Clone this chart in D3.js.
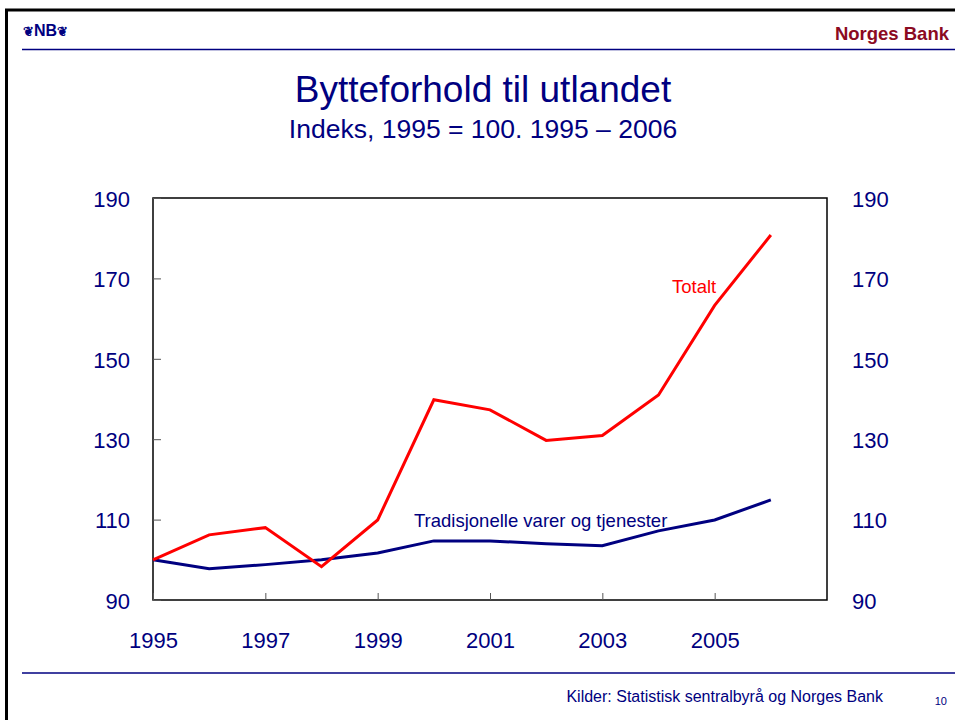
<!DOCTYPE html>
<html>
<head>
<meta charset="utf-8">
<script src="https://cdn.jsdelivr.net/npm/d3@7"></script>
<style>
  body { margin: 0; background: #fff; }
  svg { font-family: Arial, "Liberation Sans", sans-serif; }
</style>
</head>
<body>
<div id="chart"></div>
<script>
// data
const years = [1995, 1996, 1997, 1998, 1999, 2000, 2001, 2002, 2003, 2004, 2005, 2006]
const totalt = [100, 106.2, 108, 98.3, 109.9, 139.8, 137.3, 129.7, 130.9, 141, 163.3, 180.8]
const tradisjonelle = [100, 97.8, 98.8, 100, 101.7, 104.7, 104.7, 104, 103.5, 107.2, 109.9, 114.9]
const yTicks = [90, 110, 130, 150, 170, 190]
const xTicks = [1995, 1997, 1999, 2001, 2003, 2005]

const W = 955, H = 720
const navy = '#000080'

var svg = d3.select('#chart').append('svg')
  .attr('width', W).attr('height', H)

// slide frame
svg.append('rect')
  .attr('x', 6.5).attr('y', 10).attr('width', W + 10).attr('height', H)
  .attr('fill', 'none').attr('stroke', '#000').attr('stroke-width', 3)

svg.append('line').attr('x1', 22).attr('x2', W).attr('y1', 49.5).attr('y2', 49.5)
  .attr('stroke', navy).attr('stroke-width', 1.5)
svg.append('line').attr('x1', 22).attr('x2', W).attr('y1', 673).attr('y2', 673)
  .attr('stroke', navy).attr('stroke-width', 1.5)

// logo: ornament + NB + ornament
var logo = svg.append('text').attr('x', 23).attr('y', 36)
  .attr('fill', navy).style('font-weight', 'bold')
logo.append('tspan').style('font-size', '13px').text('\u2766')
logo.append('tspan').style('font-size', '16px').attr('font-family', '"Liberation Sans Narrow", Arial').text('NB')
logo.append('tspan').style('font-size', '13px').text('\u2766')

svg.append('text').attr('x', 949).attr('y', 40).attr('text-anchor', 'end')
  .attr('fill', '#8b0a22').style('font-size', '18.5px').style('font-weight', 'bold')
  .text('Norges Bank')

svg.append('text').attr('x', 483).attr('y', 102).attr('text-anchor', 'middle')
  .attr('fill', navy).style('font-size', '37px')
  .text('Bytteforhold til utlandet')
svg.append('text').attr('x', 483).attr('y', 138).attr('text-anchor', 'middle')
  .attr('fill', navy).style('font-size', '26.5px')
  .text('Indeks, 1995 = 100. 1995 \u2013 2006')

svg.append('text').attr('x', 883).attr('y', 702).attr('text-anchor', 'end')
  .attr('fill', navy).style('font-size', '16px')
  .text('Kilder: Statistisk sentralbyr\u00e5 og Norges Bank')
svg.append('text').attr('x', 947).attr('y', 705).attr('text-anchor', 'end')
  .attr('fill', navy).style('font-size', '11px')
  .text('10')

// plot area
const pL = 153, pR = 827, pT = 198, pB = 600

var x = d3.scaleLinear().domain([1995, 2007]).range([pL, pR])
var y = d3.scaleLinear().domain([90, 190]).range([pB, pT])

svg.append('rect')
  .attr('x', pL).attr('y', pT).attr('width', pR - pL).attr('height', pB - pT)
  .attr('fill', 'none').attr('stroke', '#000').attr('stroke-width', 1.5)

// inner ticks
svg.append('g')
  .attr('transform', `translate(${pL},0)`)
  .call(d3.axisRight(y).tickValues(yTicks).tickSize(8).tickFormat(''))
  .call(g => g.select('.domain').remove())
  .selectAll('line').attr('stroke', '#555')
svg.append('g')
  .attr('transform', `translate(0,${pB})`)
  .call(d3.axisTop(x).tickValues(xTicks).tickSize(7).tickFormat(''))
  .call(g => g.select('.domain').remove())
  .selectAll('line').attr('stroke', '#555')

// labels
svg.append('g')
  .attr('transform', `translate(${pL - 20},0)`)
  .call(d3.axisLeft(y).tickValues(yTicks).tickSize(0))
  .call(g => g.select('.domain').remove())
  .selectAll('text').attr('fill', navy).style('font-size', '22px').attr('dy', '0.38em')
svg.append('g')
  .attr('transform', `translate(${pR + 22},0)`)
  .call(d3.axisRight(y).tickValues(yTicks).tickSize(0))
  .call(g => g.select('.domain').remove())
  .selectAll('text').attr('fill', navy).style('font-size', '22px').attr('dy', '0.38em')
svg.append('g')
  .attr('transform', `translate(0,${pB + 28})`)
  .call(d3.axisBottom(x).tickValues(xTicks).tickSize(0).tickFormat(d3.format('d')))
  .call(g => g.select('.domain').remove())
  .selectAll('text').attr('fill', navy).style('font-size', '22px').attr('dy', '0.75em')

var line = d3.line().x((d, i) => x(years[i])).y(d => y(d))

svg.append('path').datum(tradisjonelle)
  .attr('d', line).attr('fill', 'none').attr('stroke', navy).attr('stroke-width', 3)
svg.append('path').datum(totalt)
  .attr('d', line).attr('fill', 'none').attr('stroke', '#ff0000').attr('stroke-width', 3)

svg.append('text').attr('x', 672).attr('y', 293)
  .attr('fill', '#ff0000').style('font-size', '18.5px').text('Totalt')
svg.append('text').attr('x', 414).attr('y', 527)
  .attr('fill', navy).style('font-size', '18.5px').text('Tradisjonelle varer og tjenester')
</script>
</body>
</html>
